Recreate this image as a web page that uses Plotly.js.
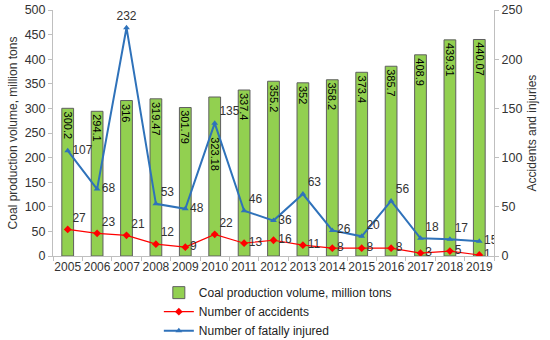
<!DOCTYPE html>
<html>
<head>
<meta charset="utf-8">
<script src="https://cdn.plot.ly/plotly-3.0.1.min.js"></script>
<style>html,body{margin:0;padding:0;background:#fff;}#chart{width:550px;height:340px;}</style>
</head>
<body>
<div id="chart"></div>
<script>
const years = [2005, 2006, 2007, 2008, 2009, 2010, 2011, 2012, 2013, 2014, 2015, 2016, 2017, 2018, 2019];
const coal = [300.2, 294.1, 316, 319.47, 301.79, 323.18, 337.4, 355.2, 352, 358.2, 373.4, 385.7, 408.9, 439.31, 440.07];
const accidents = [27, 23, 21, 12, 9, 22, 13, 16, 11, 8, 8, 8, 3, 5, 1];
const fatal = [107, 68, 232, 53, 48, 135, 46, 36, 63, 26, 20, 56, 18, 17, 15];
const accPos = ['top right','top right','top right','top right','middle right','top right','middle right','middle right','middle right','middle right','middle right','middle right','middle right','middle right','middle right'];
const fatPos = ['middle right','middle right','top center','top right','middle right','top right','top right','middle right','top right','middle right','top right','top right','top right','top right','middle right'];

const font = 'Liberation Sans, Arial, sans-serif';

const traces = [
  {
    type: 'bar', x: years, y: coal, name: 'Coal production volume, million tons',
    width: 0.4,
    marker: {color: '#92D050', line: {color: '#5f5f5f', width: 1}},
    hoverinfo: 'none'
  },
  {
    type: 'scatter', mode: 'lines+markers+text', x: years, y: accidents, yaxis: 'y2',
    name: 'Number of accidents',
    line: {color: '#FF0000', width: 1.2},
    marker: {symbol: 'diamond', size: 6, color: '#FF0000'},
    text: accidents.map(String), textposition: accPos,
    textfont: {family: font, size: 12, color: '#333'}
  },
  {
    type: 'scatter', mode: 'lines+markers+text', x: years, y: fatal, yaxis: 'y2',
    name: 'Number of fatally injured',
    line: {color: '#2F72BA', width: 2},
    marker: {symbol: 'triangle-up', size: 6, color: '#2F72BA'},
    text: fatal.map(String), textposition: fatPos,
    textfont: {family: font, size: 12, color: '#333'}
  }
];

// the 2010 bar label sits lower in the reference, below the "135" label
const annotations = years.map((yr, i) => ({
  x: yr, y: coal[i], xref: 'x', yref: 'y',
  text: String(coal[i]), showarrow: false, textangle: 90,
  yanchor: 'top', xanchor: 'center', yshift: (yr === 2010 ? -38 : -1),
  font: {family: font, size: 11, color: '#000'}
}));

const layout = {
  width: 550, height: 340,
  margin: {l: 53, r: 56, t: 10, b: 84, autoexpand: false},
  paper_bgcolor: '#fff', plot_bgcolor: '#fff',
  font: {family: font, size: 12, color: '#333'},
  showlegend: true,
  legend: {x: 0.24, y: -0.09, xanchor: 'left', yanchor: 'top', orientation: 'v',
           font: {family: font, size: 12, color: '#222'}, tracegroupgap: 0},
  xaxis: {
    type: 'linear', range: [2004.5, 2019.5], tick0: 2005, dtick: 1,
    showgrid: false, showline: true, linecolor: '#bfbfbf',
    ticks: '', tickfont: {family: font, size: 12, color: '#333'}, zeroline: false,
    minor: {tick0: 2004.5, dtick: 1, ticks: 'outside', ticklen: 4, tickcolor: '#bfbfbf', showgrid: false}
  },
  yaxis: {
    range: [0, 500], dtick: 50, showgrid: false, showline: true, linecolor: '#bfbfbf',
    ticks: 'outside', ticklen: 4, tickcolor: '#bfbfbf', zeroline: false,
    tickfont: {family: font, size: 12.5, color: '#333'},
    title: {text: 'Coal production volume, million tons', font: {family: font, size: 12, color: '#333'}, standoff: 4}
  },
  yaxis2: {
    range: [0, 250], dtick: 50, overlaying: 'y', side: 'right', showgrid: false,
    showline: true, linecolor: '#bfbfbf', ticks: 'outside', ticklen: 4, tickcolor: '#bfbfbf',
    zeroline: false, tickfont: {family: font, size: 12.5, color: '#333'},
    title: {text: 'Accidents and injuries', font: {family: font, size: 12, color: '#333'}, standoff: 6}
  },
  annotations: annotations
};

Plotly.newPlot('chart', traces, layout, {displayModeBar: false, staticPlot: true});
</script>
</body>
</html>
